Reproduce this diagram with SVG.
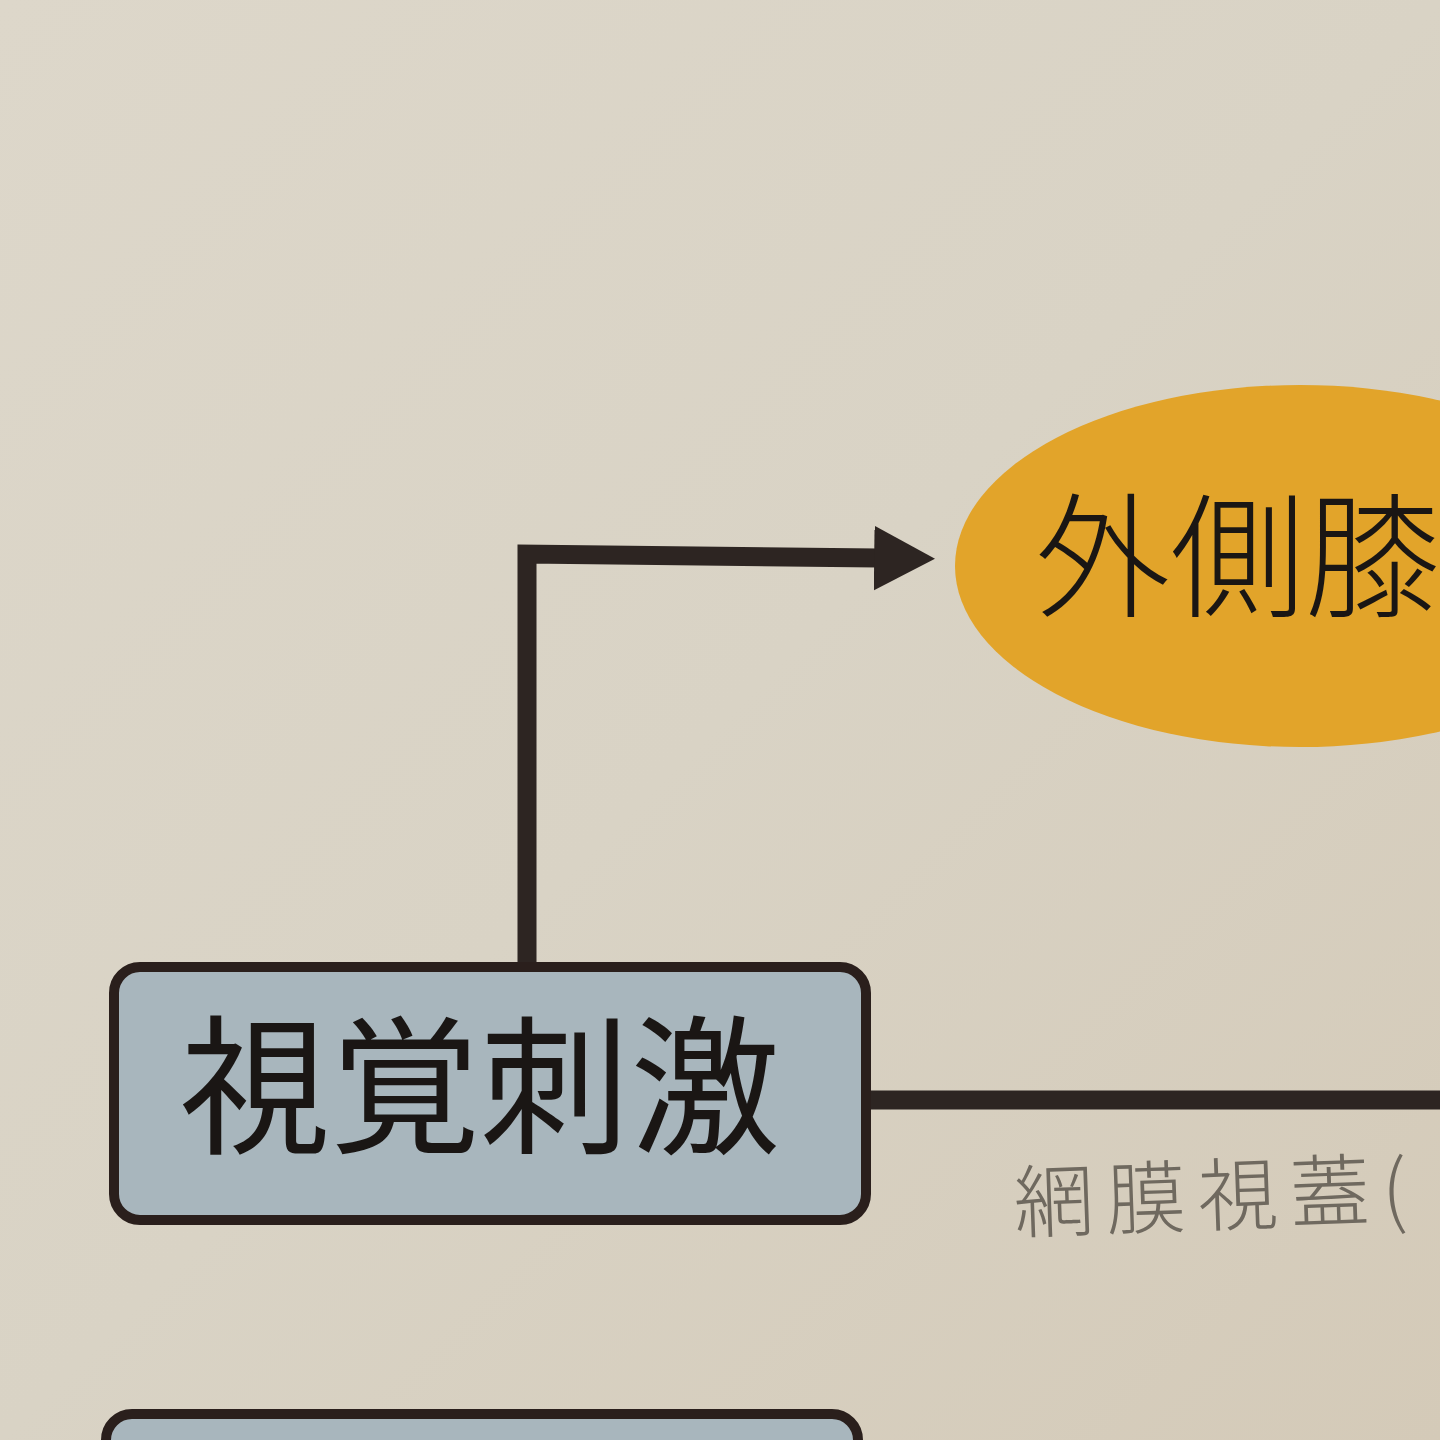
<svg xmlns="http://www.w3.org/2000/svg" width="1440" height="1440" viewBox="0 0 1440 1440">
<defs>
<linearGradient id="bg" x1="0" y1="0" x2="1" y2="1">
<stop offset="0" stop-color="#ddd7ca"/>
<stop offset="0.5" stop-color="#d9d3c5"/>
<stop offset="1" stop-color="#d4cab8"/>
</linearGradient>
<marker id="arrow" markerWidth="4" markerHeight="4" refX="0.2" refY="2" orient="auto" markerUnits="strokeWidth">
<path d="M0,0.3 L3.2,2 L0,3.7 Z" fill="#2d2522"/>
</marker>
<style>
.box{fill:#a8b6bd;stroke:#2a1f1c;stroke-width:10}
.conn{fill:none;stroke:#2d2522;stroke-width:19}
.lbl{font-family:"Noto Sans CJK JP","Noto Sans CJK SC",sans-serif;fill:#1a1614}
</style>
</defs>
<rect width="1440" height="1440" fill="url(#bg)"/>
<g id="connectors">
<path class="conn" d="M527,972 L527,554 L878,558" marker-end="url(#arrow)"/>
<path class="conn" d="M866,1100 L1440,1100"/>
</g>
<g id="node-lgn">
<ellipse cx="1300" cy="566" rx="345" ry="181" fill="#e2a42a"/>
<text class="lbl" x="1035" y="607" font-size="135" font-weight="300">外側膝</text>
</g>
<g id="node-visual">
<rect class="box" x="114" y="967" width="752" height="253" rx="26"/>
<text class="lbl" x="480" y="1142" font-size="150" text-anchor="middle" font-weight="400">視覚刺激</text>
</g>
<g id="node-bottom">
<rect class="box" x="106" y="1414" width="752" height="253" rx="26"/>
</g>
<g id="note">
<text x="1015" y="1232" font-size="80" letter-spacing="12" font-family="&quot;Noto Sans CJK JP&quot;,sans-serif" font-weight="300" fill="#6f695f" transform="rotate(-2 1015 1232)">網膜視蓋(</text>
</g>
</svg>
